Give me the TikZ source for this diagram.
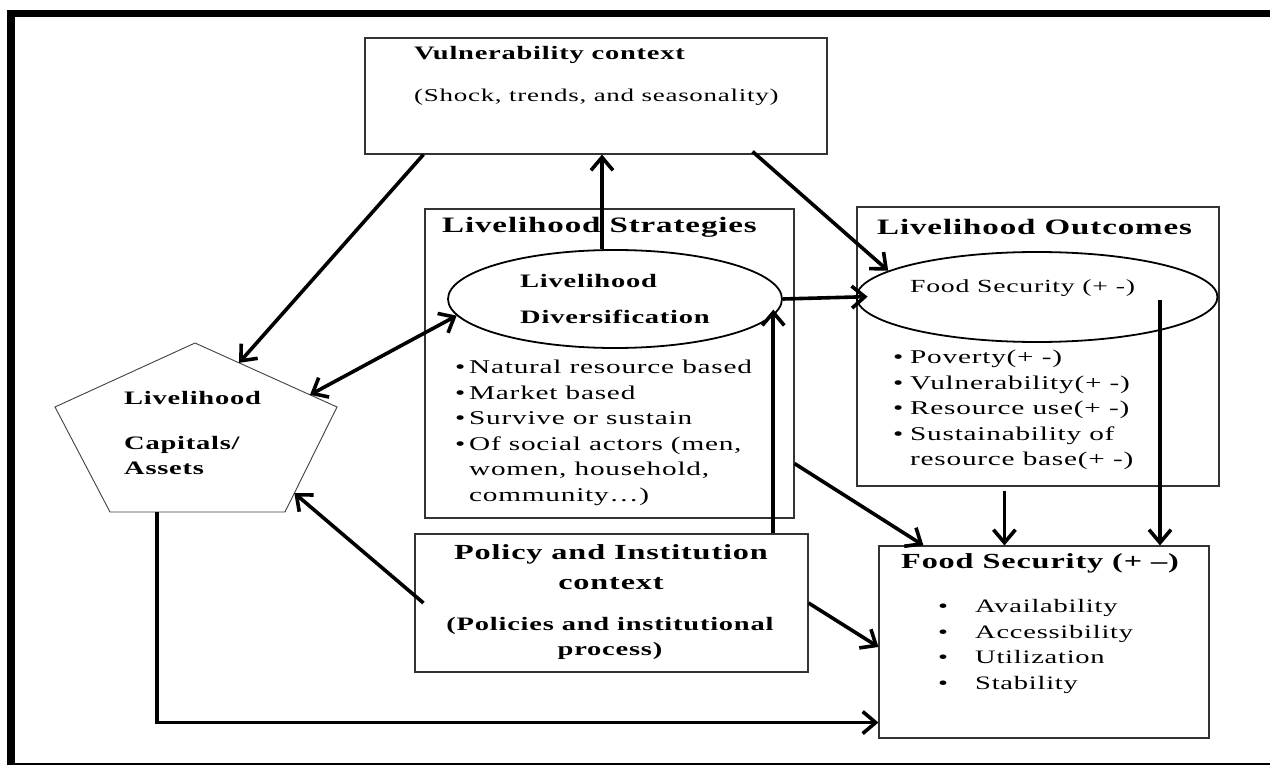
\documentclass[tikz,border=0pt]{standalone}
\usepackage{fontspec}
\setmainfont{Liberation Serif}[FakeStretch=1.5,LetterSpace=4]
\usetikzlibrary{shapes.geometric,calc,arrows.meta}
\newcommand{\fsz}[2]{\fontsize{#1}{#2}\selectfont}
\newcommand{\bul}[1]{\makebox[#1][l]{\textbullet}}

\begin{document}
\begin{tikzpicture}[x=1pt,y=-1pt,
  box/.style={draw=black!80,line width=1.1pt,inner sep=0pt},
  oval/.style={draw,ellipse,line width=1.8pt,inner sep=0pt},
  txt/.style={inner sep=0pt},
  arr/.style={line width=3.6pt,-{Straight Barb[length=13pt,width=22pt]}},
  arrboth/.style={line width=3.6pt,{Straight Barb[length=13pt,width=22pt]}-{Straight Barb[length=13pt,width=22pt]}}]

          \useasboundingbox[fill=white] (0,0) rectangle (1270,765);
          %frame
          \draw[line width=7.5pt] (1275,13.5) -| (11,767) -- (1275,767);

          %vulnerability context
          \node[box,minimum width=462pt,minimum height=116pt] (vuln) at (596,96) {};
          \node[txt,anchor=west,font=\fsz{19}{23}\bfseries] (vulnT) at (414,55) {Vulnerability context};
          \node[txt,anchor=west,font=\fsz{18}{22}] (vulnS) at (414,97) {(Shock, trends, and seasonality)};

          %strategies
          \node[box,minimum width=369pt,minimum height=309pt] (strat) at (609.5,363.5) {};
          \node[txt,anchor=west,font=\fsz{22}{26}\bfseries] (stratT) at (442,227) {Livelihood Strategies};
          \node[oval,minimum width=334pt,minimum height=98pt,align=left,font=\fsz{19}{36}\bfseries] (div) at (615,299) {Livelihood\\Diversification};
          \node[txt,anchor=north west,align=left,font=\fsz{19.5}{25.5}] (stratL) at (455,360)
            {\bul{14pt}Natural resource based\\ \bul{14pt}Market based\\ \bul{14pt}Survive or sustain\\
             \bul{14pt}Of social actors (men,\\ \hspace*{14pt}women, household,\\ \hspace*{14pt}community\dots)};

          %outcomes
          \node[box,minimum width=362pt,minimum height=279pt] (out) at (1038,346.5) {};
          \node[txt,anchor=west,font=\fsz{22}{26}\bfseries] (outT) at (877,227) {Livelihood Outcomes};
          \node[oval,minimum width=361pt,minimum height=90pt] (outfs) at (1037,297) {};
          \node[txt,anchor=west,font=\fsz{18.5}{22}] (outfsT) at (910,288) {Food Security (+ -)};
          \node[txt,anchor=north west,align=left,font=\fsz{19.5}{25.5}] (outL) at (893,350)
            {\bul{17pt}Poverty(+ -)\\ \bul{17pt}Vulnerability(+ -)\\ \bul{17pt}Resource use(+ -)\\
             \bul{17pt}Sustainability of\\ \hspace*{17pt}resource base(+ -)};

          %capitals pentagon
          \coordinate (pT) at (195,343);
          \coordinate (pR) at (337,407);
          \coordinate (pBR) at (285,512);
          \coordinate (pBL) at (110,512);
          \coordinate (pL) at (55,407);
          \draw[draw=black!75,line width=0.9pt] (pT) -- (pR) -- (pBR) -- (pBL) -- (pL) -- cycle;
          \node[txt,anchor=west,font=\fsz{19}{25}\bfseries] (capL) at (124,398) {Livelihood};
          \node[txt,anchor=west,align=left,font=\fsz{19}{25}\bfseries] (capC) at (124,455) {Capitals/\\Assets};

          %policy
          \node[box,minimum width=393pt,minimum height=138pt] (pol) at (611.5,603) {};
          \node[txt,align=center,font=\fsz{21.5}{30}\bfseries] (polT) at (611,567) {Policy and Institution\\context};
          \node[txt,align=center,font=\fsz{19}{25}\bfseries] (polS) at (610,638) {(Policies and institutional\\process)};

          %food security
          \node[box,minimum width=330pt,minimum height=192pt] (fs) at (1044,642) {};
          \node[txt,anchor=west,font=\fsz{21.5}{26}\bfseries] (fsT) at (901,563) {Food Security (+ --)};
          \node[txt,anchor=north west,align=left,font=\fsz{19}{25.7}] (fsL) at (938,599)
            {\bul{37pt}Availability\\ \bul{37pt}Accessibility\\ \bul{37pt}Utilization\\ \bul{37pt}Stability};

          %arrows
          \draw[arr] ($(vuln.south west)+(59,0)$) -- ($(pT)!0.31!(pR)$);
          \draw[arr] ([xshift=-13pt]div.north) -- ([xshift=-13pt]div.north |- vuln.south);
          \draw[arr] ($(vuln.south east)+(-75,-3)$) -- (outfs.170);
          \draw[arrboth] ($(pT)!0.81!(pR)$) -- (div.186);
          \draw[arr,shorten >=-12pt] (div.east) -- (outfs.west);
          \draw[arr,shorten >=-6pt] (pol.north -| div.-6.5) -- (div.-6.5);
          \draw[arr] ($(strat.south east)+(0,-55)$) -- ($(fs.north west)+(45,0)$);
          \draw[arr] ($(out.south west)+(148,4)$) coordinate (o8) -- (o8 |- fs.north);
          \draw[arr] ($(outfs.center)+(123,3)$) coordinate (o9) -- (o9 |- fs.north);
          \draw[arr] ($(pol.west)+(9,0)$) -- ($(pR)!0.82!(pBR)$);
          \draw[arr] (pol.east) -- ($(fs.west)+(0,5)$);
          \draw[arr] ($(pBL)!0.27!(pBR)$) |- ($(fs.south west)+(0,-16)$);
\end{tikzpicture}
\end{document}
